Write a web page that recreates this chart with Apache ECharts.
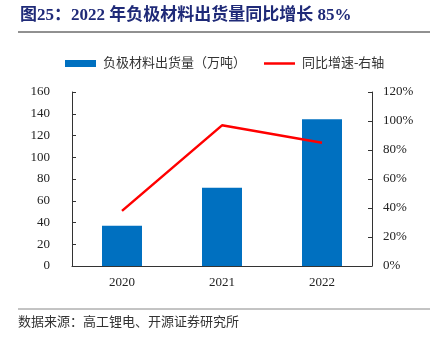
<!DOCTYPE html>
<html><head><meta charset="utf-8">
<script src="https://cdn.jsdelivr.net/npm/echarts@6/dist/echarts.min.js"></script>
<style>html,body{margin:0;padding:0;background:#fff}#c{width:439px;height:337px}</style>
</head><body><div id="c"></div>
<script>
var categories = ['2020', '2021', '2022'];
var shipments = [37, 72, 135];
var growth = [38, 97, 85];
var leftTicks = [0, 160, 20];
var rightTicks = [0, 120, 20];

var chart = echarts.init(document.getElementById('c'));
var serif = '"Liberation Serif", "Noto Sans CJK SC", serif';
var cjk = '"Liberation Serif", "Noto Sans CJK SC", sans-serif';
chart.setOption({
  animation: false,
  backgroundColor: '#fff',
  textStyle: { fontFamily: cjk },
  graphic: [
    { type: 'text', left: 20, top: 7, style: { text: '图25：2022 年负极材料出货量同比增长 85%', font: 'bold 17px ' + serif, fill: '#1F2A78' } },
    { type: 'line', shape: { x1: 18, y1: 32, x2: 430, y2: 32 }, style: { stroke: '#222', lineWidth: 1 } },
    { type: 'line', shape: { x1: 18, y1: 309, x2: 430, y2: 309 }, style: { stroke: '#888', lineWidth: 1 } },
    { type: 'text', left: 18, top: 316, style: { text: '数据来源：高工锂电、开源证券研究所', font: '13px ' + cjk, fill: '#333' } }
  ],
  legend: {
    top: 52, left: 60, itemGap: 18,
    textStyle: { fontSize: 13, color: '#333', fontFamily: cjk, padding: [0, 0, 0, 2] },
    data: [
      { name: '负极材料出货量（万吨）', icon: 'rect', itemStyle: { color: '#0070C0' } },
      { name: '同比增速-右轴', icon: 'path://M0,0h31v2.5h-31z', itemStyle: { color: '#FF0000' } }
    ],
    itemWidth: 31, itemHeight: 7
  },
  grid: { left: 72, right: 67, top: 92, bottom: 71 },
  xAxis: {
    type: 'category', data: categories,
    axisLine: { lineStyle: { color: '#333' } },
    axisTick: { inside: true, length: 4, lineStyle: { color: '#888' } },
    axisLabel: { fontSize: 13, color: '#222', fontFamily: serif, margin: 10 }
  },
  yAxis: [
    { type: 'value', min: leftTicks[0], max: leftTicks[1], interval: leftTicks[2],
      axisLine: { show: true, lineStyle: { color: '#333' } },
      axisTick: { show: true, inside: true, length: 4, lineStyle: { color: '#333' } },
      splitLine: { show: false },
      axisLabel: { fontSize: 13, color: '#222', fontFamily: serif, margin: 22 } },
    { type: 'value', min: rightTicks[0], max: rightTicks[1], interval: rightTicks[2],
      axisLine: { show: true, lineStyle: { color: '#333' } },
      axisTick: { show: true, inside: true, length: 4, lineStyle: { color: '#333' } },
      splitLine: { show: false },
      axisLabel: { fontSize: 13, color: '#222', fontFamily: serif, margin: 11, formatter: '{value}%' } }
  ],
  series: [
    { name: '负极材料出货量（万吨）', type: 'bar', data: shipments, barWidth: '40%',
      itemStyle: { color: '#0070C0' } },
    { name: '同比增速-右轴', type: 'line', yAxisIndex: 1, data: growth, symbol: 'none',
      lineStyle: { color: '#FF0000', width: 2.5 }, itemStyle: { color: '#FF0000' } }
  ]
});
</script></body></html>
